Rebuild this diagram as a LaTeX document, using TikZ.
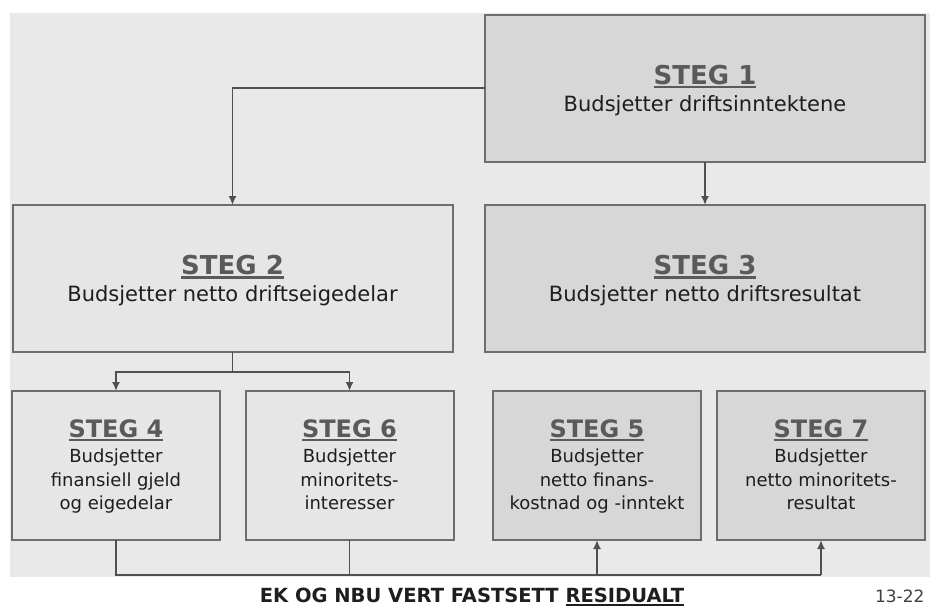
\documentclass[tikz,border=0pt]{standalone}
\usepackage{fontspec}
\setmainfont{DejaVu Sans}
\usetikzlibrary{positioning,arrows.meta}

\definecolor{panelgray}{HTML}{E9E9E9}
\definecolor{boxlight}{HTML}{E6E6E6}
\definecolor{boxdark}{HTML}{D7D7D7}
\definecolor{edgegray}{HTML}{6E6E6E}
\definecolor{wiregray}{HTML}{505050}
\definecolor{headgray}{HTML}{5A5A5A}
\definecolor{textdark}{HTML}{1E1E1E}

% underline with a rule of given thickness
\newcommand\stegul[2]{\setbox0=\hbox{#2}\rlap{\rule[-4pt]{\wd0}{#1}}\box0}

\tikzset{
  stepbox/.style={draw=edgegray, line width=2pt, outer sep=0pt, inner sep=0pt},
  bigbox/.style={stepbox, minimum width=440pt, minimum height=147pt},
  smallbox/.style={stepbox, minimum width=208pt, minimum height=149pt},
  bighead/.style={anchor=base, text=headgray, font=\fontsize{26}{30}\selectfont\bfseries},
  bigbody/.style={anchor=base, text=textdark, font=\fontsize{21}{25}\selectfont},
  smallhead/.style={anchor=base, text=headgray, font=\fontsize{24}{28}\selectfont\bfseries},
  % base of a wrapped node sits on its last line
  smallbody/.style={anchor=base, text=textdark, align=center, font=\fontsize{18}{23.3}\selectfont},
  wire/.style={draw=wiregray, line width=1.7pt},
  flow/.style={wire, -{Latex[length=9pt,width=8pt]}},
}

\begin{document}
\begin{tikzpicture}[x=1pt, y=-1pt]
    \useasboundingbox (0,0) rectangle (930,606);
    % grey panel behind the steps
    \fill[panelgray] (10,13) rectangle (930,577);

    % top row
    \node[bigbox, fill=boxdark] (s1) at (705,88) {};
    \node[bighead] (h1) at ([yshift=4pt]s1.center) {\stegul{2.4pt}{STEG 1}};
    \node[bigbody] (b1) at ([yshift=-23pt]s1.center) {Budsjetter driftsinntektene};

    % middle row
    \node[bigbox, fill=boxlight] (s2) at (232.5,278.5) {};
    \node[bighead] (h2) at ([yshift=4pt]s2.center) {\stegul{2.4pt}{STEG 2}};
    \node[bigbody] (b2) at ([yshift=-23pt]s2.center) {Budsjetter netto driftseigedelar};

    \node[bigbox, fill=boxdark] (s3) at (705,278.5) {};
    \node[bighead] (h3) at ([yshift=4pt]s3.center) {\stegul{2.4pt}{STEG 3}};
    \node[bigbody] (b3) at ([yshift=-23pt]s3.center) {Budsjetter netto driftsresultat};

    % bottom row
    \node[smallbox, fill=boxlight] (s4) at (116,465.5) {};
    \node[smallhead] (h4) at ([yshift=28.5pt]s4.center) {\stegul{2.4pt}{STEG 4}};
    \node[smallbody] (b4) at ([yshift=-44pt]s4.center) {Budsjetter\\finansiell gjeld\\og eigedelar};

    \node[smallbox, fill=boxlight] (s6) at (349.5,465.5) {};
    \node[smallhead] (h6) at ([yshift=28.5pt]s6.center) {\stegul{2.4pt}{STEG 6}};
    \node[smallbody] (b6) at ([yshift=-44pt]s6.center) {Budsjetter\\minoritets-\\interesser};

    \node[smallbox, fill=boxdark] (s5) at (597,465.5) {};
    \node[smallhead] (h5) at ([yshift=28.5pt]s5.center) {\stegul{2.4pt}{STEG 5}};
    \node[smallbody] (b5) at ([yshift=-44pt]s5.center) {Budsjetter\\netto finans-\\kostnad og -inntekt};

    \node[smallbox, fill=boxdark] (s7) at (821,465.5) {};
    \node[smallhead] (h7) at ([yshift=28.5pt]s7.center) {\stegul{2.4pt}{STEG 7}};
    \node[smallbody] (b7) at ([yshift=-44pt]s7.center) {Budsjetter\\netto minoritets-\\resultat};

    % arrows between the steps
    \draw[flow] (s1.west) -| (s2.north);
    \draw[flow] (s1.south) -- (s3.north);

    \coordinate[below=20pt of s2.south] (split);
    \draw[wire] (s2.south) -- (split);
    \draw[flow] (split) -| (s4.north);
    \draw[flow] (split) -| (s6.north);

    % residual bus along the bottom
    \coordinate[below=35pt of s4.south] (busL);
    \coordinate (busR) at (s7 |- busL);
    \draw[wire] (s4.south) -- (busL) -- (busR);
    \draw[wire] (s6.south) -- (s6 |- busL);
    \draw[flow] (s5 |- busL) -- (s5.south);
    \draw[flow] (busR) -- (s7.south);

    \node[anchor=base, text=textdark, font=\fontsize{19.5}{23}\selectfont\bfseries] (residual) at (472,602)
        {EK OG NBU VERT FASTSETT \stegul{1.8pt}{RESIDUALT}};
    \node[anchor=base east, text=textdark!85, font=\fontsize{17}{20}\selectfont] (pageno) at (928,602) {13-22};
\end{tikzpicture}
\end{document}
